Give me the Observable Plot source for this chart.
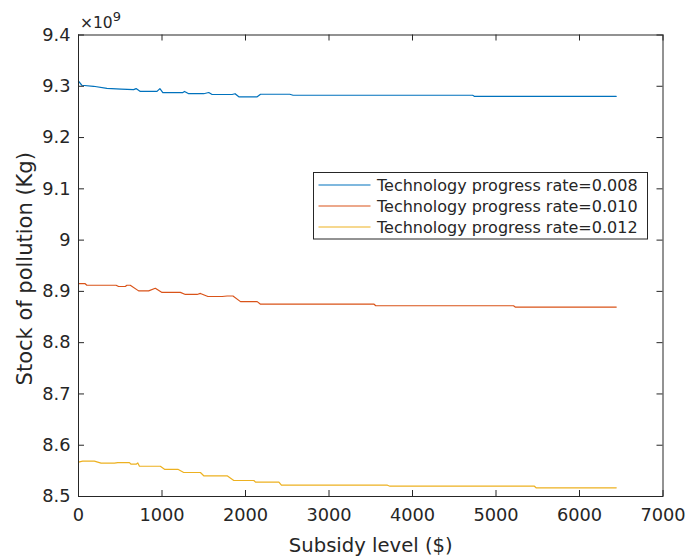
<!DOCTYPE html>
<html>
<head>
<meta charset="utf-8">
<script src="https://cdn.jsdelivr.net/npm/d3@7"></script>
<script src="https://cdn.jsdelivr.net/npm/@observablehq/plot@0.6"></script>
<style>
  html, body { margin: 0; padding: 0; background: #fff; }
  #chart { width: 687px; height: 557px; position: relative; }
</style>
</head>
<body>
<div id="chart"></div>
<script>
// ---- Data (stock of pollution in units of 1e9 Kg) ----
const seriesNames = [
  "Technology progress rate=0.008",
  "Technology progress rate=0.010",
  "Technology progress rate=0.012"
];
const seriesColors = ["#0072BD", "#D95319", "#EDB120"];

const rate008 = [
  [0, 9.310], [40, 9.302], [180, 9.300], [340, 9.296], [510, 9.2945], [660, 9.2935],
  [690, 9.2955], [740, 9.290], [940, 9.290], [975, 9.2955], [1010, 9.2878], [1250, 9.2878],
  [1270, 9.290], [1320, 9.2855], [1500, 9.2855], [1560, 9.2878], [1600, 9.284], [1840, 9.284],
  [1875, 9.2855], [1920, 9.2795], [2140, 9.2795], [2180, 9.2845], [2530, 9.2845], [2570, 9.2825],
  [4720, 9.2825], [4740, 9.2805], [6440, 9.2805]
];
const rate010 = [
  [0, 8.915], [80, 8.915], [100, 8.912], [450, 8.912], [480, 8.9095], [560, 8.9095],
  [580, 8.912], [620, 8.912], [720, 8.901], [840, 8.901], [920, 8.906], [1000, 8.898],
  [1220, 8.898], [1280, 8.894], [1420, 8.894], [1460, 8.896], [1550, 8.890], [1720, 8.890],
  [1780, 8.891], [1850, 8.891], [1940, 8.880], [2140, 8.880], [2180, 8.875], [3540, 8.875],
  [3560, 8.872], [5210, 8.872], [5230, 8.8695], [6440, 8.8695]
];
const rate012 = [
  [0, 8.567], [50, 8.569], [190, 8.569], [270, 8.565], [430, 8.565], [470, 8.566],
  [610, 8.566], [630, 8.563], [690, 8.563], [710, 8.5655], [730, 8.559], [980, 8.559],
  [1030, 8.553], [1190, 8.553], [1260, 8.5468], [1460, 8.5468], [1500, 8.5404], [1780, 8.5404],
  [1860, 8.5312], [2100, 8.5312], [2120, 8.5279], [2400, 8.5279], [2430, 8.522], [3700, 8.522],
  [3730, 8.5201], [5460, 8.5201], [5480, 8.517], [6440, 8.517]
];

const xTicks = [0, 1000, 2000, 3000, 4000, 5000, 6000, 7000];
const yTicks = [8.5, 8.6, 8.7, 8.8, 8.9, 9.0, 9.1, 9.2, 9.3, 9.4];
const xLabel = "Subsidy level ($)";
const yLabel = "Stock of pollution (Kg)";

// ---- Build table ----
const rows = [];
[rate008, rate010, rate012].forEach((arr, i) => {
  arr.forEach(([x, y]) => rows.push({series: seriesNames[i], x, y}));
});

const W = 687, H = 557;
const mL = 78, mR = 24.5, mT = 34.5, mB = 61;
const innerW = W - mL - mR, innerH = H - mT - mB;
const ink = "#262626";
const font = "DejaVu Sans";

const chart = Plot.plot({
  width: W, height: H,
  marginLeft: mL, marginRight: mR, marginTop: mT, marginBottom: mB,
  style: {fontFamily: font, color: ink, background: "#fff", overflow: "visible"},
  x: {domain: [0, 7000]},
  y: {domain: [8.5, 9.4]},
  color: {domain: seriesNames, range: seriesColors},
  marks: [
    Plot.line(rows, {x: "x", y: "y", z: "series", stroke: "series", strokeWidth: 1.2}),
    Plot.frame({stroke: ink, strokeWidth: 1}),
    Plot.tickX(xTicks, {x: d => d, insetTop: innerH - 6, stroke: ink}),
    Plot.tickX(xTicks, {x: d => d, insetBottom: innerH - 6, stroke: ink}),
    Plot.tickY(yTicks, {y: d => d, insetRight: innerW - 6, stroke: ink}),
    Plot.tickY(yTicks, {y: d => d, insetLeft: innerW - 6, stroke: ink}),
    Plot.axisX(xTicks, {anchor: "bottom", tickSize: 0, tickPadding: 12, fontSize: 17.8, fill: ink, label: null, tickFormat: d => String(d)}),
    Plot.axisY(yTicks, {anchor: "left", tickSize: 0, tickPadding: 8, fontSize: 17.8, fill: ink, label: null, tickFormat: d => String(+d.toFixed(1))}),
    Plot.text([xLabel], {text: d => d, frameAnchor: "bottom", textAnchor: "middle", lineAnchor: "middle", dy: 49, fontSize: 19.6, fill: ink}),
    Plot.text([yLabel], {text: d => d, frameAnchor: "left", textAnchor: "middle", lineAnchor: "middle", dx: -53, dy: 3, rotate: -90, fontSize: 21, fill: ink})
  ]
});

document.getElementById("chart").appendChild(chart);

// ---- Exponent label and in-axes legend ----
const svg = d3.select(chart);
const exp = svg.append("text")
  .attr("x", 80).attr("y", 28).attr("text-anchor", "start")
  .attr("font-family", font).attr("font-size", 15.5).attr("fill", ink);
exp.append("tspan").text("×10");
exp.append("tspan").attr("font-size", 13).attr("dy", -7).text("9");

const lg = svg.append("g").attr("transform", "translate(313.5,172.5)");
lg.append("rect").attr("width", 334).attr("height", 66.5)
  .attr("fill", "#fff").attr("stroke", ink).attr("stroke-width", 1);
seriesNames.forEach((name, i) => {
  const cy = 12.5 + i * 21;
  lg.append("line").attr("x1", 5).attr("x2", 57).attr("y1", cy).attr("y2", cy)
    .attr("stroke", seriesColors[i]).attr("stroke-width", 1.2);
  lg.append("text").attr("x", 63.5).attr("y", cy).attr("dy", "0.36em").attr("text-anchor", "start")
    .attr("font-family", font).attr("font-size", 16).attr("fill", ink).text(name);
});
</script>
</body>
</html>
